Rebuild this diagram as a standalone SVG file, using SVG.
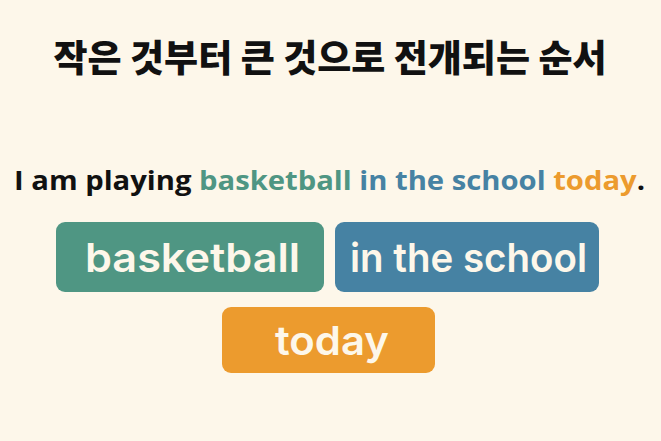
<svg xmlns="http://www.w3.org/2000/svg" width="661" height="441" viewBox="0 0 661 441">
<style>
.title{font-family:"Noto Sans CJK KR","Noto Sans",sans-serif;font-weight:900;font-size:37px;fill:#111;}
.sent{font-family:"Open Sans","Noto Sans",sans-serif;font-weight:700;font-size:27.5px;fill:#111;}
.g{fill:#4f9683;}
.b{fill:#4682a3;}
.o{fill:#ec9b2e;}
.lbl{font-family:Inter,"Noto Sans",sans-serif;font-weight:600;font-size:40px;fill:#fdf7ea;text-anchor:middle;}
</style>
<rect width="661" height="441" fill="#fdf7ea"/>
<g id="title">
<text class="title" x="330" y="72" text-anchor="middle">작은 것부터 큰 것으로 전개되는 순서</text>
</g>
<g id="sentence">
<text class="sent" x="14" y="190" textLength="631" lengthAdjust="spacingAndGlyphs">I am playing <tspan class="g">basketball</tspan> <tspan class="b">in the school</tspan> <tspan class="o">today</tspan>.</text>
</g>
<g id="node-basketball">
<rect class="g" x="56" y="222" width="268" height="70" rx="9"/>
<text class="lbl" x="192.5" y="272" textLength="215" lengthAdjust="spacingAndGlyphs">basketball</text>
</g>
<g id="node-school">
<rect class="b" x="335" y="222" width="264" height="70" rx="9"/>
<text class="lbl" x="468.5" y="272" textLength="237" lengthAdjust="spacingAndGlyphs">in the school</text>
</g>
<g id="node-today">
<rect class="o" x="222" y="307" width="213" height="66" rx="9"/>
<text class="lbl" x="332" y="355" textLength="114" lengthAdjust="spacingAndGlyphs">today</text>
</g>
<g id="connectors"></g>
</svg>
